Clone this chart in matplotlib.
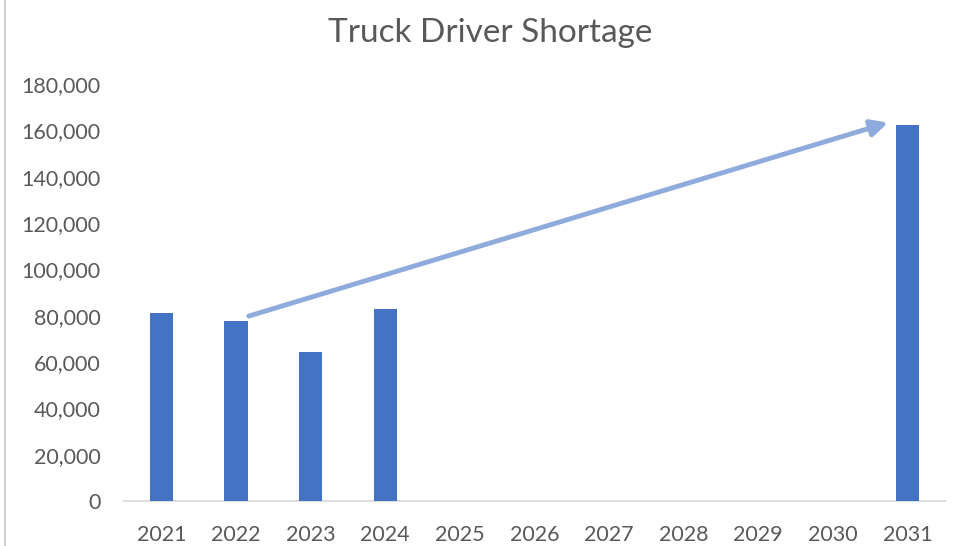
import matplotlib
matplotlib.use('Agg')
import matplotlib.pyplot as plt
from matplotlib.ticker import FuncFormatter
from matplotlib.patches import FancyArrowPatch

years = ['2021', '2022', '2023', '2024', '2025', '2026', '2027', '2028', '2029', '2030', '2031']
shortage = [81000, 77700, 64300, 82700, 0, 0, 0, 0, 0, 0, 162500]

bar_color = '#4472c4'
arrow_color = '#8faadc'
text_gray = '#595959'

plt.rcParams['font.family'] = ['Lato', 'DejaVu Sans']

fig = plt.figure(figsize=(9.7, 5.46), dpi=100)
ax = fig.add_axes([0.128, 0.0824, 0.846, 0.7636])

x = list(range(len(years)))
w = 0.31
ax.bar(x, shortage, width=w, color=bar_color, zorder=3)

ax.set_xlim(-0.5, len(years) - 0.5)
ax.set_ylim(0, 180000)
ax.set_yticks(range(0, 180001, 20000))
ax.yaxis.set_major_formatter(FuncFormatter(lambda v, p: '{:,.0f}'.format(v)))
ax.set_xticks(x)
ax.set_xticklabels(years)

for s in ['top', 'right', 'left']:
    ax.spines[s].set_visible(False)
ax.spines['bottom'].set_color('#d9d9d9')
ax.spines['bottom'].set_linewidth(1.3)
ax.tick_params(axis='both', length=0, labelsize=15.5, colors=text_gray)
ax.tick_params(axis='y', pad=17)
ax.tick_params(axis='x', pad=17)

# arrow from the 2022 bar to the 2031 bar
start = (1 + w / 2 - 0.02, shortage[1] + 1800)
end = (10 - w / 2 - 0.07, shortage[-1] + 1200)
arr = FancyArrowPatch(start, end, arrowstyle='-|>,head_length=10,head_width=5',
                      color=arrow_color, linewidth=3.5, mutation_scale=1, zorder=4)
ax.add_patch(arr)

fig.text(0.505, 0.94, 'Truck Driver Shortage', ha='center', va='center',
         fontsize=24, color=text_gray)

# left border of the chart area
fig.add_artist(plt.Line2D([0.005, 0.005], [0, 1], color='#d0d0d0', linewidth=1.5))

fig.savefig('out.png', dpi=100)
